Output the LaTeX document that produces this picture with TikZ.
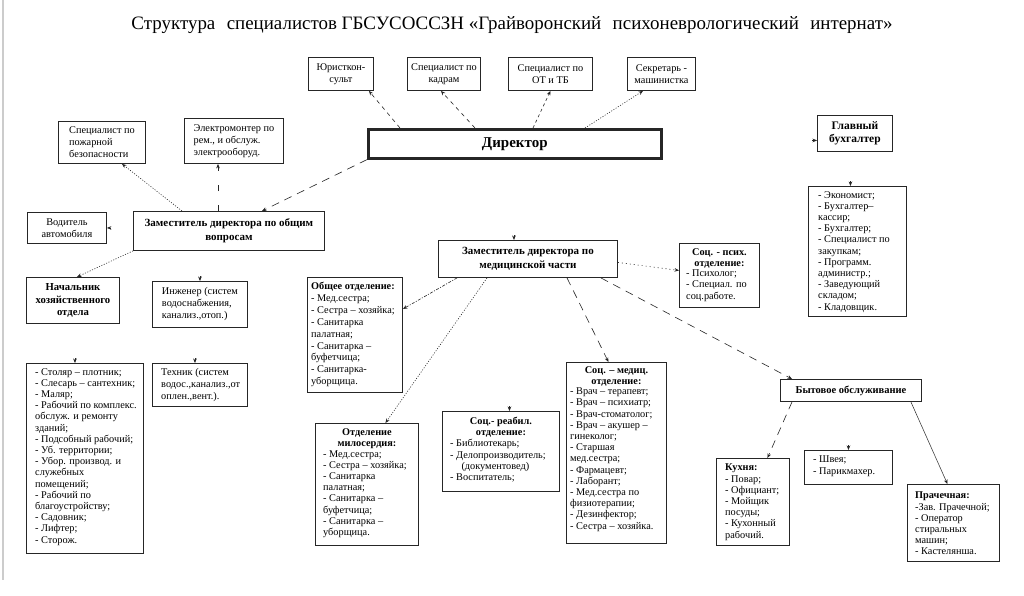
\documentclass[tikz,border=0pt]{standalone}
\usepackage{fontspec}
\setmainfont{Liberation Serif}
\usetikzlibrary{arrows.meta}
\newcommand{\fs}{\fontsize{10.3}{11.2}\selectfont}
\newcommand{\fb}{\fontsize{10.3}{12}\selectfont}
\begin{document}
\begin{tikzpicture}[x=1pt,y=-1pt,
 bx/.style={draw=black!85, line width=0.9pt, inner sep=0pt, anchor=north west, rectangle, font=\fb, align=center},
 tx/.style={anchor=north west, inner sep=0pt, font=\fs, align=left},
 hx/.style={anchor=north, inner sep=0pt, font=\fs\bfseries, align=center},
 arr/.style={-{Stealth[length=4.5pt,width=3.6pt]}, line width=0.6pt, draw=black!85},
 dsh/.style={dash pattern=on 4pt off 4pt},
 ldsh/.style={dash pattern=on 8pt off 6pt},
 dtt/.style={dash pattern=on 1pt off 1.6pt},
 ]
\useasboundingbox[fill=white] (0,0) rectangle (1024,596);
\draw[black!20, line width=1.5pt] (3,0) -- (3,580);

% title
\node[inner sep=0pt] (title) at (512,25.5) {\resizebox{761pt}{!}{\fontsize{16}{18}\selectfont Структура\hspace{0.6em}специалистов ГБСУСОССЗН «Грайворонский\hspace{0.6em}психоневрологический\hspace{0.6em}интернат»}};

% top row
\node[bx, minimum width=65pt, minimum height=33pt] (jur) at (308,57) {Юристкон-\\сульт};
\node[bx, minimum width=73pt, minimum height=33pt] (kadr) at (407,57) {Специалист по\\кадрам};
\node[bx, minimum width=84pt, minimum height=33pt] (ot) at (508,57) {Специалист по\\ОТ и ТБ};
\node[bx, minimum width=68pt, minimum height=33pt] (sec) at (627,57) {Секретарь -\\машинистка};
\node[bx, line width=2.6pt, minimum width=293pt, minimum height=29pt, font=\bfseries\fontsize{15}{17}\selectfont] (dir) at (367,128) {Директор};

% left branch
\node[bx, minimum width=87pt, minimum height=42pt, align=left] (pozh) at (58,121) {Специалист по\\пожарной\\безопасности};
\node[bx, minimum width=99pt, minimum height=45pt, align=left] (elec) at (184,118) {Электромонтер по\\рем., и обслуж.\\электрооборуд.};
\node[bx, minimum width=79pt, minimum height=31pt] (vod) at (27,212) {Водитель\\автомобиля};
\node[bx, minimum width=191pt, minimum height=39pt, font=\bfseries\fontsize{11}{13.5}\selectfont] (zgen) at (133,211) {Заместитель директора по общим\\вопросам};
\node[bx, minimum width=93pt, minimum height=46pt, font=\bfseries\fontsize{10.7}{12.8}\selectfont] (nach) at (26,277) {Начальник\\хозяйственного\\отдела};
\node[bx, minimum width=95pt, minimum height=46pt, align=left] (ing) at (152,281) {Инженер (систем\\водоснабжения,\\канализ.,отоп.)};
\node[bx, minimum width=117pt, minimum height=190pt] (staff) at (26,363) {};
\node[tx] (staffT) at ([xshift=9pt,yshift=-5pt]staff.north west) {- Столяр – плотник;\\- Слесарь – сантехник;\\- Маляр;\\- Рабочий по комплекс.\\обслуж. и ремонту\\зданий;\\- Подсобный рабочий;\\- Уб. территории;\\- Убор. производ. и\\служебных\\помещений;\\- Рабочий по\\благоустройству;\\- Садовник;\\- Лифтер;\\- Сторож.};
\node[bx, minimum width=95pt, minimum height=43pt] (tech) at (152,363) {};
\node[tx, font=\fb] (techT) at ([xshift=9pt,yshift=-5pt]tech.north west) {Техник (систем\\водос.,канализ.,от\\оплен.,вент.).};

% medical branch
\node[bx, minimum width=179pt, minimum height=37pt, font=\bfseries\fontsize{11}{13.5}\selectfont] (zmed) at (438,240) {Заместитель директора по\\медицинской части};
\node[bx, minimum width=95pt, minimum height=115pt] (obsh) at (307,277) {};
\node[tx, font=\fontsize{10.3}{11.9}\selectfont] (obshT) at ([xshift=4pt,yshift=-5pt]obsh.north west) {\textbf{Общее отделение:}\\- Мед.сестра;\\- Сестра – хозяйка;\\- Санитарка\\палатная;\\- Санитарка –\\буфетчица;\\- Санитарка-\\уборщица.};
\node[bx, minimum width=80pt, minimum height=64pt] (spsy) at (679,243) {};
\node[hx] (spsyH) at ([yshift=-5pt]spsy.north) {Соц. - псих.\\отделение:};
\node[tx, xshift=7pt, yshift=-1.5pt] (spsyT) at (spsyH.south -| spsy.west) {- Психолог;\\- Специал. по\\соц.работе.};
\node[bx, minimum width=103pt, minimum height=122pt] (milos) at (315,423) {};
\node[hx] (milosH) at ([yshift=-5pt]milos.north) {Отделение\\милосердия:};
\node[tx, xshift=8pt, yshift=-1.5pt] (milosT) at (milosH.south -| milos.west) {- Мед.сестра;\\- Сестра – хозяйка;\\- Санитарка\\палатная;\\- Санитарка –\\буфетчица;\\- Санитарка –\\уборщица.};
\node[bx, minimum width=117pt, minimum height=80pt] (reab) at (442,411) {};
\node[hx] (reabH) at ([yshift=-6pt]reab.north) {Соц.- реабил.\\отделение:};
\node[tx, xshift=8pt, yshift=-1.5pt] (reabT) at (reabH.south -| reab.west) {- Библиотекарь;\\- Делопроизводитель;\\\hspace*{1.1em}(документовед)\\- Воспитатель;};
\node[bx, minimum width=100pt, minimum height=181pt] (smed) at (566,362) {};
\node[hx] (smedH) at ([yshift=-4pt]smed.north) {Соц. – медиц.\\отделение:};
\node[tx, xshift=4pt, yshift=-1.5pt] (smedT) at (smedH.south -| smed.west) {- Врач – терапевт;\\- Врач – психиатр;\\- Врач-стоматолог;\\- Врач – акушер –\\гинеколог;\\- Старшая\\мед.сестра;\\- Фармацевт;\\- Лаборант;\\- Мед.сестра по\\физиотерапии;\\- Дезинфектор;\\- Сестра – хозяйка.};

% accounting
\node[bx, minimum width=75pt, minimum height=36pt, font=\bfseries\fontsize{11.5}{13.5}\selectfont] (glb) at (817,115) {Главный\\бухгалтер};
\node[bx, minimum width=98pt, minimum height=130pt] (buh) at (808,186) {};
\node[tx] (buhT) at ([xshift=10pt,yshift=-5pt]buh.north west) {- Экономист;\\- Бухгалтер–\\кассир;\\- Бухгалтер;\\- Специалист по\\закупкам;\\- Программ.\\администр.;\\- Заведующий\\складом;\\- Кладовщик.};

% household
\node[bx, minimum width=141pt, minimum height=22pt, font=\bfseries\fontsize{10.5}{13}\selectfont] (byt) at (780,379) {Бытовое обслуживание};
\node[bx, minimum width=73pt, minimum height=87pt] (kuh) at (716,458) {};
\node[tx] (kuhT) at ([xshift=9pt,yshift=-6pt]kuh.north west) {\textbf{Кухня:}\\- Повар;\\- Официант;\\- Мойщик\\посуды;\\- Кухонный\\рабочий.};
\node[bx, minimum width=88pt, minimum height=34pt] (shv) at (804,450) {};
\node[tx] (shvT) at ([xshift=9pt,yshift=-6pt]shv.north west) {- Швея;\\- Парикмахер.};
\node[bx, minimum width=92pt, minimum height=77pt] (prach) at (907,484) {};
\node[tx] (prachT) at ([xshift=8pt,yshift=-8pt]prach.north west) {\textbf{Прачечная:}\\-Зав. Прачечной;\\- Оператор\\стиральных\\машин;\\- Кастелянша.};

% connectors from director
\draw[arr, dsh] ([xshift=33pt]dir.north west) -- ([xshift=-5pt]jur.south east);
\draw[arr, dsh] ([xshift=108pt]dir.north west) -- ([xshift=-3pt]kadr.south);
\draw[arr, dash pattern=on 3pt off 3pt] ([xshift=166pt]dir.north west) -- (ot.south);
\draw[arr, dtt] ([xshift=218pt]dir.north west) -- ([xshift=16pt]sec.south west);
\draw[arr, ldsh] (dir.south west) -- ([xshift=129pt]zgen.north west);
\draw[arr] ([yshift=5pt,xshift=-14pt]zmed.north) -- ([xshift=-14pt]zmed.north);
\draw[arr] ([xshift=-5pt,yshift=-7pt]glb.west) -- ([yshift=-7pt]glb.west);
\draw[arr] ([yshift=5pt,xshift=-7pt]buh.north) -- ([xshift=-7pt]buh.north);

% general deputy
\draw[arr, dtt] ([xshift=49pt]zgen.north west) -- ([xshift=64pt]pozh.south west);
\coordinate (e1) at ([xshift=34pt]elec.south west);
\draw[arr, dash pattern=on 6pt off 14pt] (zgen.north -| e1) -- (e1);
\draw[arr] ([xshift=4pt]vod.east) -- (vod.east);
\draw[arr, dtt] (zgen.south west) -- ([xshift=4pt]nach.north);
\draw[arr] ([yshift=5pt]ing.north) -- (ing.north);
\draw[arr] ([yshift=5pt,xshift=-10pt]staff.north) -- ([xshift=-10pt]staff.north);
\draw[arr] ([yshift=5pt,xshift=-5pt]tech.north) -- ([xshift=-5pt]tech.north);

% medical deputy
\draw[arr, dash pattern=on 3pt off 1.5pt on 1pt off 1.5pt] ([xshift=19pt]zmed.south west) -- ([yshift=-32pt]obsh.north east);
\draw[arr, dtt] ([xshift=49pt]zmed.south west) -- ([xshift=18.5pt]milos.north);
\draw[arr, ldsh] ([xshift=129pt]zmed.south west) -- ([xshift=-8pt]smed.north);
\draw[arr, ldsh] ([xshift=-17pt]zmed.south east) -- ([xshift=12pt]byt.north west);
\draw[arr, dash pattern=on 1pt off 3pt] ([yshift=-3.5pt]zmed.east) -- ([yshift=5pt]spsy.west);
\draw[arr] ([yshift=5pt,xshift=8.5pt]reab.north) -- ([xshift=8.5pt]reab.north);

% household
\draw[arr, ldsh] ([xshift=12pt]byt.south west) -- ([xshift=14.5pt]kuh.north);
\draw[arr] ([yshift=5pt]shv.north) -- (shv.north);
\draw[arr, line width=0.5pt] ([xshift=-11pt]byt.south east) -- ([xshift=-6pt]prach.north);
\end{tikzpicture}
\end{document}
